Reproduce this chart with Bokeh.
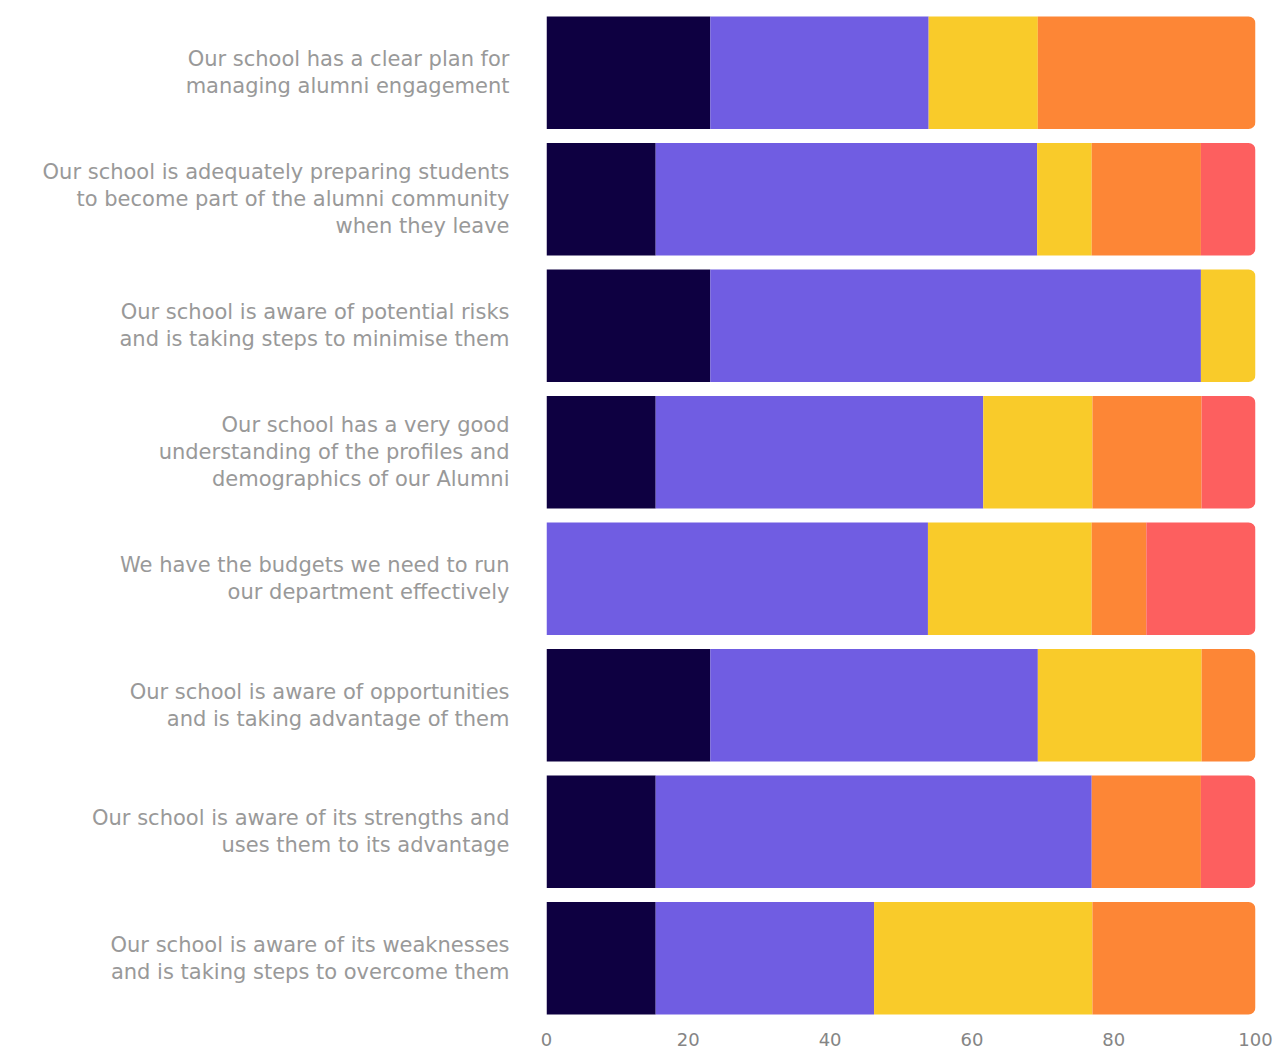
from bokeh.plotting import figure
from bokeh.models import ColumnDataSource, FactorRange, Range1d, FixedTicker
from bokeh.embed import file_html
from bokeh.resources import INLINE

categories = [
    "Our school has a clear plan for\nmanaging alumni engagement",
    "Our school is adequately preparing students\nto become part of the alumni community\nwhen they leave",
    "Our school is aware of potential risks\nand is taking steps to minimise them",
    "Our school has a very good\nunderstanding of the profiles and\ndemographics of our Alumni",
    "We have the budgets we need to run\nour department effectively",
    "Our school is aware of opportunities\nand is taking advantage of them",
    "Our school is aware of its strengths and\nuses them to its advantage",
    "Our school is aware of its weaknesses\nand is taking steps to overcome them",
]
series_a = [23.1, 15.4, 23.1, 15.4, 0.0, 23.1, 15.4, 15.4]
series_b = [30.8, 53.8, 69.2, 46.2, 53.8, 46.2, 61.5, 30.8]
series_c = [15.4, 7.7, 7.7, 15.4, 23.1, 23.1, 0.0, 30.8]
series_d = [30.8, 15.4, 0.0, 15.4, 7.7, 7.7, 15.4, 23.1]
series_e = [0.0, 7.7, 0.0, 7.7, 15.4, 0.0, 7.7, 0.0]
x_ticks = [0, 20, 40, 60, 80, 100]

series = [series_a, series_b, series_c, series_d, series_e]
colors = ["#0e0041", "#705de2", "#f9cb2a", "#fd8636", "#fd5f5f"]

label_font = "DejaVu Sans"

p = figure(
    width=1277, height=1050,
    y_range=FactorRange(factors=list(reversed(categories)), range_padding=0),
    x_range=Range1d(0, 100),
    output_backend="svg", toolbar_location=None,
    min_border_left=546, min_border_right=22, min_border_top=9, min_border_bottom=29,
)
p.background_fill_color = "white"
p.border_fill_color = "white"
p.outline_line_color = None
p.xgrid.grid_line_color = None
p.ygrid.grid_line_color = None

# determine last non-zero segment per bar
last_idx = []
for i in range(len(categories)):
    li = 0
    for k, s in enumerate(series):
        if s[i] > 0:
            li = k
    last_idx.append(li)

cum = [0.0] * len(categories)
for k, (s, c) in enumerate(zip(series, colors)):
    mid = dict(y=[], left=[], right=[])
    end = dict(y=[], left=[], right=[])
    for i, cat in enumerate(categories):
        if s[i] <= 0:
            continue
        d = end if last_idx[i] == k else mid
        d["y"].append(cat)
        d["left"].append(cum[i])
        d["right"].append(min(cum[i] + s[i], 100))
        cum[i] += s[i]
    if mid["y"]:
        p.hbar(y="y", left="left", right="right", height=0.89,
               source=ColumnDataSource(mid), fill_color=c, line_color=None)
    if end["y"]:
        p.hbar(y="y", left="left", right="right", height=0.89,
               source=ColumnDataSource(end), fill_color=c, line_color=None,
               border_radius=(0, 7, 7, 0))

p.xaxis.ticker = FixedTicker(ticks=x_ticks)
p.xaxis.axis_line_color = None
p.xaxis.major_tick_line_color = None
p.xaxis.minor_tick_line_color = None
p.xaxis.major_label_text_font = label_font
p.xaxis.major_label_text_font_size = "18px"
p.xaxis.major_label_text_color = "#858585"
p.xaxis.major_label_standoff = 5

p.yaxis.axis_line_color = None
p.yaxis.major_tick_line_color = None
p.yaxis.minor_tick_line_color = None
p.yaxis.major_label_text_font = label_font
p.yaxis.major_label_text_font_size = "21px"
p.yaxis.major_label_text_color = "#999999"
p.yaxis.major_label_text_line_height = 1.13
p.yaxis.major_label_standoff = 31

open("out.html", "w").write(file_html(p, INLINE))
